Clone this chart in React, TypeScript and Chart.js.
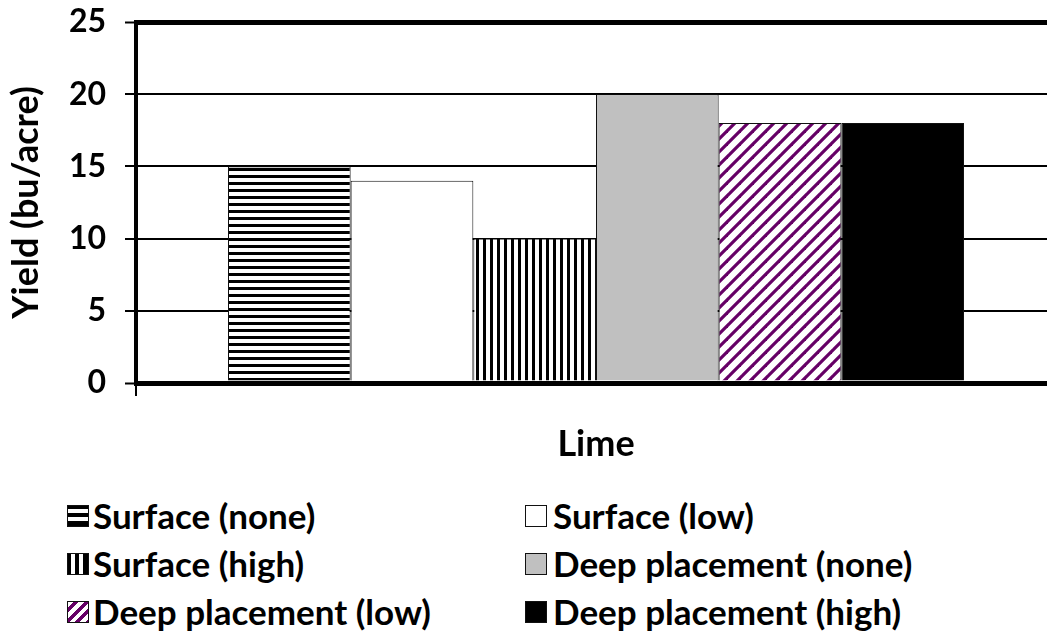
import React, { useEffect, useRef } from "react";
import { Chart, registerables } from "chart.js";

Chart.register(...registerables);

// ---- data ----
const categories = [""];
const seriesNames = [
  "Surface (none)",
  "Surface (low)",
  "Surface (high)",
  "Deep placement (none)",
  "Deep placement (low)",
  "Deep placement (high)",
];
const surfaceNone = [15];
const surfaceLow = [14];
const surfaceHigh = [10];
const deepNone = [20];
const deepLow = [18];
const deepHigh = [18];
const yTicks = [0, 5, 10, 15, 20, 25];
const xTitle = "Lime";
const yTitle = "Yield (bu/acre)";

const FONT = "Lato, 'Open Sans', sans-serif";
const PURPLE = "#660066";

function makePattern(kind: string): CanvasPattern | string {
  const c = document.createElement("canvas");
  if (kind === "h") {
    c.width = 7;
    c.height = 7;
    const ctx = c.getContext("2d")!;
    ctx.fillStyle = "#fff";
    ctx.fillRect(0, 0, 7, 7);
    ctx.fillStyle = "#000";
    ctx.fillRect(0, 0, 7, 3);
    return ctx.createPattern(c, "repeat")!;
  }
  if (kind === "v") {
    c.width = 7;
    c.height = 7;
    const ctx = c.getContext("2d")!;
    ctx.fillStyle = "#fff";
    ctx.fillRect(0, 0, 7, 7);
    ctx.fillStyle = "#000";
    ctx.fillRect(0, 0, 3, 7);
    return ctx.createPattern(c, "repeat")!;
  }
  const s = 13;
  c.width = s;
  c.height = s;
  const ctx = c.getContext("2d")!;
  ctx.fillStyle = "#fff";
  ctx.fillRect(0, 0, s, s);
  ctx.strokeStyle = PURPLE;
  ctx.lineWidth = 3.2;
  for (const k of [-s, 0, s]) {
    ctx.beginPath();
    ctx.moveTo(k - 2, s + 2);
    ctx.lineTo(k + s + 2, -2);
    ctx.stroke();
  }
  return ctx.createPattern(c, "repeat")!;
}

const swatchBg = [
  "linear-gradient(to bottom, #000 0px, #000 3px, #fff 3px, #fff 7px, #000 7px, #000 11px, #fff 11px, #fff 15px, #000 15px, #000 20px)",
  "#ffffff",
  "linear-gradient(to right, #000 0px, #000 3px, #fff 3px, #fff 7px, #000 7px, #000 11px, #fff 11px, #fff 15px, #000 15px, #000 20px)",
  "#c0c0c0",
  "repeating-linear-gradient(135deg, #fff 0px, #fff 4px, #660066 4px, #660066 7.5px)",
  "#000000",
];

const legendRowsY = [515, 563, 611];
const legendSwatchX = [67, 525];
const legendTextX = [93, 553];

function LegendItem(props: { i: number }) {
  const i = props.i;
  const row = Math.floor(i / 2);
  const col = i % 2;
  const yc = legendRowsY[row];
  const swatchStyle: React.CSSProperties = {
    position: "absolute",
    left: legendSwatchX[col],
    top: yc - 10,
    width: 20,
    height: 20,
    border: "1.5px solid #111",
    background: swatchBg[i],
  };
  const textStyle: React.CSSProperties = {
    position: "absolute",
    left: legendTextX[col],
    top: yc - 22,
    height: 44,
    lineHeight: "44px",
    fontSize: 35,
    fontWeight: "bold",
    color: "#000",
    whiteSpace: "nowrap",
  };
  return (
    <>
      <div style={swatchStyle} />
      <div style={textStyle}>{seriesNames[i]}</div>
    </>
  );
}

export default function App() {
  const ref = useRef<HTMLCanvasElement>(null);

  useEffect(() => {
    const canvas = ref.current!;
    const fills = [
      makePattern("h"),
      "#ffffff",
      makePattern("v"),
      "#c0c0c0",
      makePattern("d"),
      "#000000",
    ];
    const values = [surfaceNone, surfaceLow, surfaceHigh, deepNone, deepLow, deepHigh];
    const chart = new Chart(canvas, {
      type: "bar",
      data: {
        labels: categories,
        datasets: values.map((v, i) => ({
          label: seriesNames[i],
          data: v,
          backgroundColor: fills[i] as any,
          borderColor: "#111",
          borderWidth: 1,
          categoryPercentage: 0.8,
          barPercentage: 1,
        })),
      },
      options: {
        responsive: false,
        animation: false,
        events: [],
        layout: { padding: { top: 22, left: 0, right: 0, bottom: 0 } },
        plugins: {
          legend: { display: false },
          tooltip: { enabled: false },
          title: { display: false },
        },
        scales: {
          x: {
            grid: {
              display: true,
              drawOnChartArea: false,
              drawTicks: true,
              tickLength: 13,
              color: "#000",
              lineWidth: 2,
            },
            border: { display: true, color: "#000", width: 4 },
            ticks: { padding: 0, font: { family: FONT, size: 12 } },
            title: {
              display: true,
              text: xTitle,
              color: "#000",
              font: { family: FONT, size: 36, weight: "bold" },
              padding: { top: 0, bottom: 0 },
            },
            afterFit: (s: any) => {
              s.height = 83;
              s.paddingLeft = 0;
              s.paddingRight = 0;
            },
          },
          xTop: {
            type: "category",
            position: "top",
            grid: { display: false, drawTicks: false },
            border: { display: true, color: "#000", width: 5 },
            ticks: { display: false },
            afterFit: (s: any) => {
              s.height = 0;
              s.paddingLeft = 0;
              s.paddingRight = 0;
            },
          },
          y: {
            min: 0,
            max: 25,
            afterBuildTicks: (s: any) => {
              s.ticks = yTicks.map((v) => ({ value: v }));
            },
            grid: {
              color: "#000",
              lineWidth: (ctx: any) =>
                ctx.tick && (ctx.tick.value === 25 || ctx.tick.value === 0) ? 5 : 2,
              tickLength: 11,
              tickWidth: 2,
              tickColor: "#000",
            },
            border: { display: true, color: "#000", width: 4 },
            ticks: {
              color: "#000",
              padding: 19,
              font: { family: FONT, size: 32, weight: "bold" },
            },
            title: {
              display: true,
              text: yTitle,
              color: "#000",
              font: { family: FONT, size: 36, weight: "bold" },
              padding: { top: 5, bottom: 0 },
            },
            afterFit: (s: any) => {
              s.width = 136;
              s.paddingTop = 0;
              s.paddingBottom = 0;
            },
          },
        },
      },
    });
    return () => chart.destroy();
  }, []);

  return (
    <div
      style={{
        position: "fixed",
        left: 0,
        top: 0,
        width: 1047,
        height: 637,
        overflow: "hidden",
        background: "#fff",
        fontFamily: FONT,
      }}
    >
      <canvas
        ref={ref}
        width={1056}
        height={466}
        style={{ position: "absolute", left: 0, top: 0, width: 1056, height: 466 }}
      />
      {seriesNames.map((name, i) => (
        <LegendItem key={name} i={i} />
      ))}
    </div>
  );
}
